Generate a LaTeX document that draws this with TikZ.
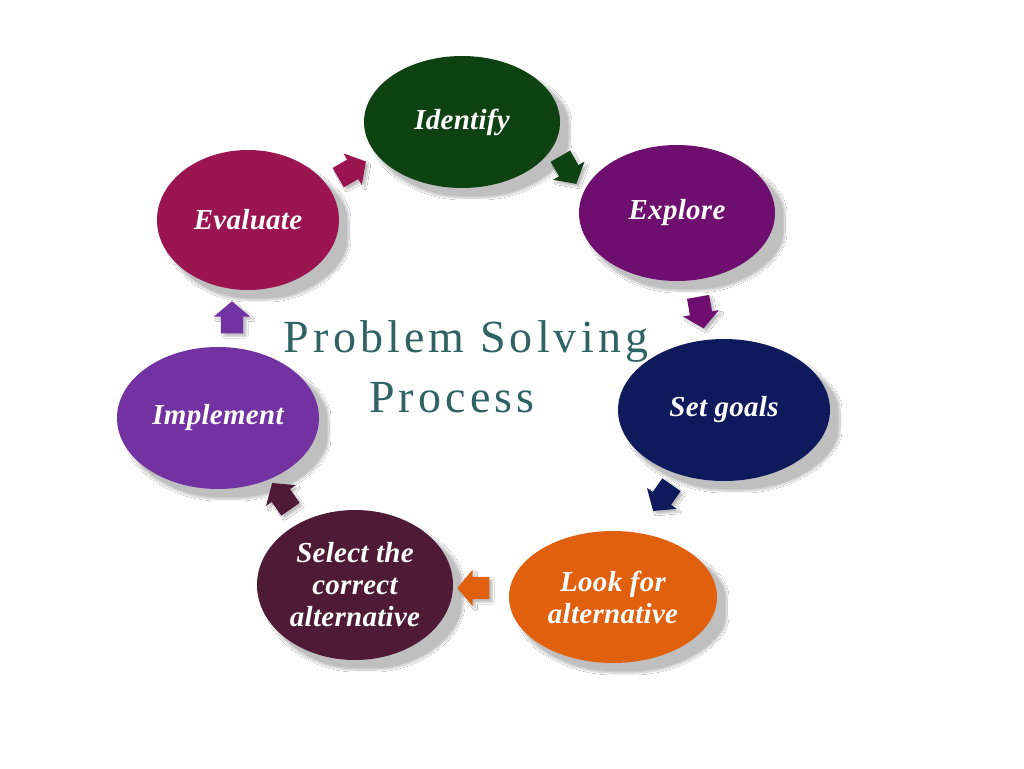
\documentclass[tikz,border=0pt]{standalone}
\usepackage{fontspec}
\setmainfont{Liberation Serif}
\usetikzlibrary{shapes.geometric,shapes.arrows,shadows.blur}
\definecolor{cIdent}{HTML}{0F4212}
\definecolor{cExpl}{HTML}{6E0E6E}
\definecolor{cGoals}{HTML}{0E1A5C}
\definecolor{cLook}{HTML}{E0600E}
\definecolor{cSel}{HTML}{4E1A36}
\definecolor{cImpl}{HTML}{7232A2}
\definecolor{cEval}{HTML}{9A1450}
\definecolor{cTitle}{HTML}{2F6262}
\tikzset{
  stage/.style={ellipse, fill=#1, draw=none, text=white, align=center,
    font=\fontsize{29}{32}\selectfont\bfseries\itshape\addfontfeatures{LetterSpace=1},
    blur shadow={shadow xshift=10pt, shadow yshift=-10pt, shadow opacity=25, shadow blur steps=16, shadow blur extra rounding=10pt}},
  flow/.style={single arrow, fill=#1, draw=none, minimum width=36pt, minimum height=32pt,
    single arrow head extend=7pt, single arrow tip angle=100, inner xsep=0pt, inner ysep=11pt,
    blur shadow={shadow xshift=3pt, shadow yshift=-3pt, shadow opacity=25, shadow blur steps=5}}
}
\begin{document}
\begin{tikzpicture}[x=1pt,y=-1pt]
\useasboundingbox (0,0) rectangle (1024,768);
\fill[white] (0,0) rectangle (1024,768);
\node[stage=cIdent, minimum width=196pt, minimum height=132pt] (ident) at (462,122) {Identify};
\node[stage=cExpl, minimum width=196pt, minimum height=136pt] (expl) at (677,213) {Explore};
\node[stage=cGoals, minimum width=212pt, minimum height=142pt] (goals) at (724,410) {Set goals};
\node[stage=cLook, minimum width=208pt, minimum height=132pt] (look) at (613,597) {Look for\\alternative};
\node[stage=cSel, minimum width=196pt, minimum height=150pt] (sel) at (355,585) {Select the\\correct\\alternative};
\node[stage=cImpl, minimum width=202pt, minimum height=142pt] (impl) at (218,418) {Implement};
\node[stage=cEval, minimum width=182pt, minimum height=140pt] (eval) at (248,220) {Evaluate};
\node[text=cTitle, align=center, font=\fontsize{46}{60}\selectfont\addfontfeatures{LetterSpace=9}] (title) at (466,367) {Problem Solving\\Process\hspace*{28pt}};
\node[flow=cEval, rotate=30] (a1) at (348,172) {};
\node[flow=cIdent, rotate=-60] (a2) at (566,166) {};
\node[flow=cExpl, rotate=-80] (a3) at (700,308) {};
\node[flow=cGoals, rotate=-125] (a4) at (665,494) {};
\node[flow=cLook, rotate=180] (a5) at (478,588) {};
\node[flow=cSel, rotate=125] (a6) at (284,500) {};
\node[flow=cImpl, rotate=90] (a7) at (232,322) {};
\end{tikzpicture}
\end{document}
